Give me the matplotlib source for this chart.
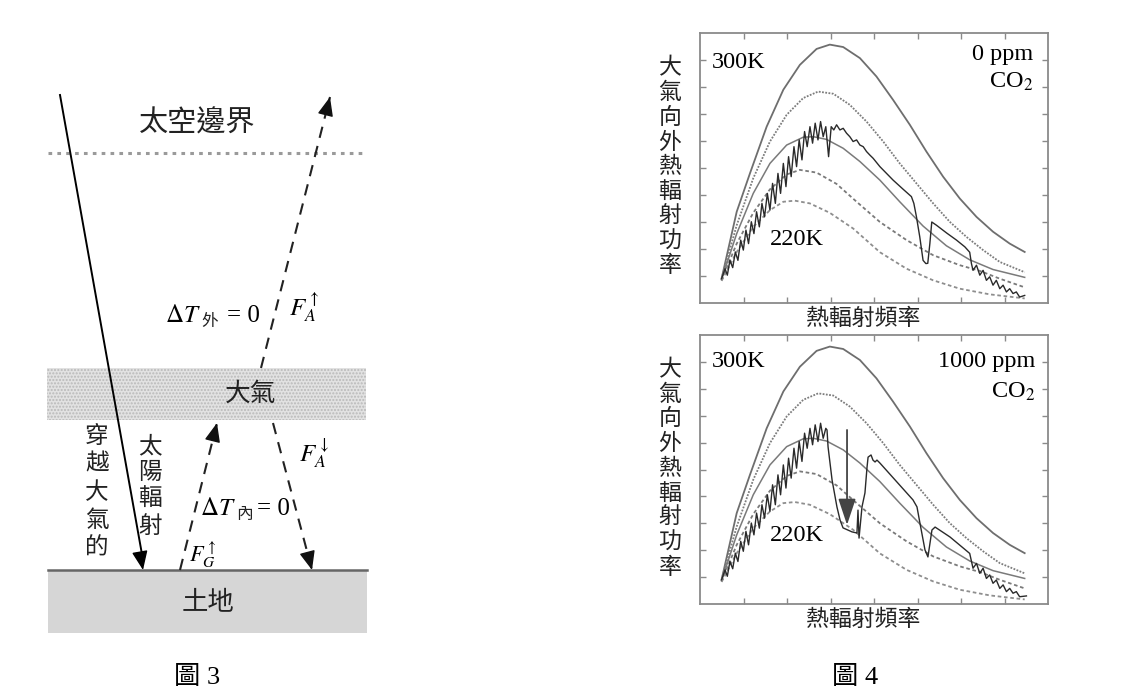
import matplotlib.pyplot as plt
from matplotlib.patches import Rectangle

plt.rcParams['font.family'] = ['Liberation Serif', 'Noto Sans CJK TC']
plt.rcParams['mathtext.fontset'] = 'stix'

# ---------------- 圖 4 data (x: 熱輻射頻率 0-2000, y: 功率 0-1) ----------------
bb300_x = [124, 211, 287, 383, 479, 574, 670, 746, 823, 919, 1014, 1110, 1206, 1301, 1397, 1493, 1589, 1684, 1780, 1866]
bb300_y = [.090, .338, .480, .653, .790, .882, .941, .957, .948, .907, .839, .752, .660, .561, .468, .387, .319, .264, .220, .189]
bb280_x = [124, 211, 306, 402, 498, 593, 679, 766, 861, 957, 1053, 1148, 1244, 1340, 1435, 1531, 1627, 1723, 1866]
bb280_y = [.090, .288, .462, .598, .697, .759, .783, .775, .734, .672, .598, .517, .443, .369, .301, .245, .196, .152, .114]
bb260_x = [124, 211, 306, 402, 498, 593, 651, 727, 823, 919, 1034, 1148, 1282, 1416, 1550, 1684, 1866]
bb260_y = [.087, .257, .406, .517, .585, .614, .616, .606, .573, .524, .455, .375, .285, .212, .160, .124, .095]
bb240_x = [124, 211, 306, 402, 498, 574, 670, 785, 900, 1034, 1187, 1340, 1493, 1608, 1723, 1866]
bb240_y = [.084, .220, .334, .421, .476, .493, .483, .441, .375, .300, .233, .177, .140, .119, .090, .058]
bb220_x = [124, 211, 306, 402, 479, 545, 631, 746, 880, 1034, 1187, 1340, 1493, 1665, 1866]
bb220_y = [.082, .189, .282, .344, .375, .379, .369, .334, .276, .188, .127, .084, .053, .032, .017]

# rising (water vapour) part, same in both spectra
rise_x = [124, 144, 157, 172, 188, 203, 218, 234, 249, 264, 279, 295, 310, 325, 341, 356, 371, 387,
          402, 417, 433, 448, 463, 479, 494, 509, 524, 540, 555, 570, 586, 601, 616, 632, 647, 662,
          678, 693, 708, 723]
rise_y = [.090, .127, .103, .158, .131, .189, .158, .233, .196, .270, .220, .301, .257, .338, .282, .369,
          .319, .406, .344, .443, .369, .480, .406, .517, .431, .542, .468, .579, .505, .604, .530, .635,
          .579, .653, .592, .666, .604, .672, .616, .653]

# 0 ppm CO2
tail0_x = [739, 754, 769, 785, 804, 823, 842, 861, 880, 900, 919, 938, 957, 976, 995, 1034, 1110, 1168,
           1215, 1229, 1244, 1263, 1282, 1298, 1309, 1321, 1332, 1359, 1418, 1474, 1522, 1550, 1560,
           1569, 1589, 1608, 1627, 1646, 1665, 1684, 1703, 1723, 1742, 1761, 1780, 1799, 1818, 1837, 1866]
tail0_y = [.542, .653, .641, .660, .641, .647, .629, .616, .598, .604, .585, .579, .561, .548, .536, .505,
           .455, .421, .394, .369, .319, .245, .158, .146, .147, .220, .300, .288, .259, .233, .208, .188,
           .146, .121, .140, .103, .121, .084, .097, .066, .084, .053, .066, .041, .053, .035, .041, .022, .028]

# 1000 ppm CO2
tail1_x = [730, 736, 759, 787, 805, 822, 874, 902, 908, 914, 931, 948, 960, 966, 983, 994, 1006, 1017,
           1034, 1224, 1247, 1264, 1293, 1310, 1333, 1351, 1437, 1550, 1569, 1589, 1608, 1627, 1646, 1665,
           1684, 1703, 1723, 1742, 1761, 1780, 1799, 1818, 1837, 1876]
tail1_y = [.647, .584, .461, .361, .312, .283, .268, .264, .349, .245, .361, .413, .509, .546, .554, .535,
           .528, .535, .524, .387, .361, .301, .201, .175, .275, .286, .249, .188, .133, .151, .114, .133,
           .095, .108, .077, .089, .058, .071, .046, .058, .040, .046, .027, .030]

co2_arrow_x = 845
co2_arrow_y = [.647, .294]

panels = [
    ('0 ppm', tail0_x, tail0_y),
    ('1000 ppm', tail1_x, tail1_y),
]

# ---------------- 圖 3 diagram (pixel coords, y downwards) ----------------
solar_x, solar_y = [60, 143], [95, 570]
fa_up_x, fa_up_y = [261, 330], [368, 97]
fg_up_x, fg_up_y = [180, 217], [570, 423]
fa_dn_x, fa_dn_y = [273, 312], [423, 570]
space_x, space_y = [48, 362], [153, 153]
band_x, band_y = [47, 366], [368, 420]
ground_x, ground_y = [48, 367], [570, 633]

fig = plt.figure(figsize=(11.3, 7), dpi=100)
ax0 = fig.add_axes([0, 0, 1, 1])
ax0.set_xlim(0, 1130)
ax0.set_ylim(700, 0)
ax0.axis('off')

# layers
ax0.add_patch(Rectangle((band_x[0], band_y[0]), band_x[1] - band_x[0], band_y[1] - band_y[0],
                        facecolor='#e2e2e2', edgecolor='#b9b9b9', hatch='.....', lw=0))
ax0.add_patch(Rectangle((ground_x[0], ground_y[0]), ground_x[1] - ground_x[0], ground_y[1] - ground_y[0],
                        facecolor='#d6d6d6', edgecolor='none'))
ax0.plot(ground_x, [ground_y[0]] * 2, color='#666666', lw=1.8)
ax0.plot(space_x, space_y, color='#9a9a9a', lw=2.2, linestyle=(0, (1.2, 1.7)))


def head(ax, xs, ys, color='black'):
    # small solid arrow head at the end of a line
    dx, dy = xs[1] - xs[0], ys[1] - ys[0]
    ax.annotate('', xy=(xs[1], ys[1]), xytext=(xs[1] - dx * 0.02, ys[1] - dy * 0.02),
                arrowprops=dict(arrowstyle='-|>,head_length=0.65,head_width=0.27', color=color,
                                lw=1, shrinkA=0, shrinkB=0, mutation_scale=18))


ax0.plot(solar_x, [solar_y[0], solar_y[1] - 10], color='black', lw=1.4)
head(ax0, solar_x, solar_y)
for xs, ys in [(fa_up_x, fa_up_y), (fg_up_x, fg_up_y), (fa_dn_x, fa_dn_y)]:
    ax0.plot(xs, ys, color='#222222', lw=1.5, linestyle=(0, (5.5, 4)))
    head(ax0, xs, ys, color='#111111')

cjk = dict(ha='center', va='center', color='#222222')
ax0.text(197, 124, '太空邊界', fontsize=21, **cjk)
ax0.text(251, 394, '大氣', fontsize=18.5, **cjk)
ax0.text(208, 603, '土地', fontsize=19, **cjk)
for i, ch in enumerate('穿越大氣的'):
    ax0.text(97, 437 + i * 28, ch, fontsize=17, **cjk)
for i, ch in enumerate('太陽輻射'):
    ax0.text(150, 447 + i * 26.7, ch, fontsize=17, **cjk)

ax0.text(165, 322, r'$\Delta T$', fontsize=18, va='baseline')
ax0.text(201, 322, '外', fontsize=12, va='center', color='#222222')
ax0.text(227, 322, '= 0', fontsize=18, va='baseline')
ax0.text(200, 515, r'$\Delta T$', fontsize=18, va='baseline')
ax0.text(236, 515, '內', fontsize=12, va='center', color='#222222')
ax0.text(257, 515, '= 0', fontsize=18, va='baseline')
ax0.text(289, 315, r'$F_A^{\uparrow}$', fontsize=18, va='baseline')
ax0.text(299, 461, r'$F_A^{\downarrow}$', fontsize=18, va='baseline')
ax0.text(189, 562, r'$F_G^{\uparrow}$', fontsize=16, va='baseline')

ax0.text(197, 678, '圖 3', fontsize=19, ha='center', va='center')
ax0.text(855, 678, '圖 4', fontsize=19, ha='center', va='center')

# ---------------- 圖 4 panels ----------------
boxes = [(700, 33, 303), (700, 335, 604)]
for (label, tx, ty), (left, top, bottom) in zip(panels, boxes):
    ax = fig.add_axes([left / 1130, (700 - bottom) / 700, 348 / 1130, (bottom - top) / 700])
    ax.set_facecolor('none')
    ax.set_xlim(0, 2000)
    ax.set_ylim(0, 1)
    ax.set_xticks(range(250, 2000, 250))
    ax.set_yticks([i / 10 for i in range(1, 10)])
    ax.tick_params(direction='in', length=4, width=1, color='#8a8a8a', top=True, right=True,
                   labelbottom=False, labelleft=False)
    for sp in ax.spines.values():
        sp.set_color('#8a8a8a')
        sp.set_linewidth(1.3)

    ax.plot(bb300_x, bb300_y, color='#6e6e6e', lw=1.3)
    ax.plot(bb280_x, bb280_y, color='#7c7c7c', lw=1.3, linestyle=(0, (1, 0.8)))
    ax.plot(bb260_x, bb260_y, color='#7a7a7a', lw=1.1)
    ax.plot(bb240_x, bb240_y, color='#7a7a7a', lw=1.3, linestyle=(0, (2, 1.5)))
    ax.plot(bb220_x, bb220_y, color='#8e8e8e', lw=1.3, linestyle=(0, (2, 1.5)))
    ax.plot(rise_x + tx, rise_y + ty, color='#2a2a2a', lw=1.0)

    ax.text(69, 0.90 if top > 300 else 0.889, '300K', fontsize=17.5, va='center')
    ax.text(402, 0.253 if top > 300 else 0.237, '220K', fontsize=17.5, va='center')
    ax.text(1925 if top > 300 else 1914, 0.900 if top > 300 else 0.922, label,
            fontsize=17.5, ha='right', va='center')
    ax.text(1925 if top > 300 else 1914, 0.788 if top > 300 else 0.819, r'CO$_2$',
            fontsize=17.5, ha='right', va='center')

    if top > 300:
        ax.annotate('', xy=(co2_arrow_x, co2_arrow_y[1]), xytext=(co2_arrow_x, co2_arrow_y[0]),
                    arrowprops=dict(arrowstyle='-|>,head_length=0.9,head_width=0.3', color='#444444',
                                    lw=1.3, shrinkA=0, shrinkB=0, mutation_scale=18))

    mid = (top + bottom) / 2
    for i, ch in enumerate('大氣向外熱輻射功率'):
        ax0.text(670, mid - 99 + i * 24.7, ch, fontsize=16.5, **cjk)
    ax0.text(863, bottom + 16, '熱輻射頻率', fontsize=16.5, **cjk)

fig.savefig('out.png', dpi=100, facecolor='white')
